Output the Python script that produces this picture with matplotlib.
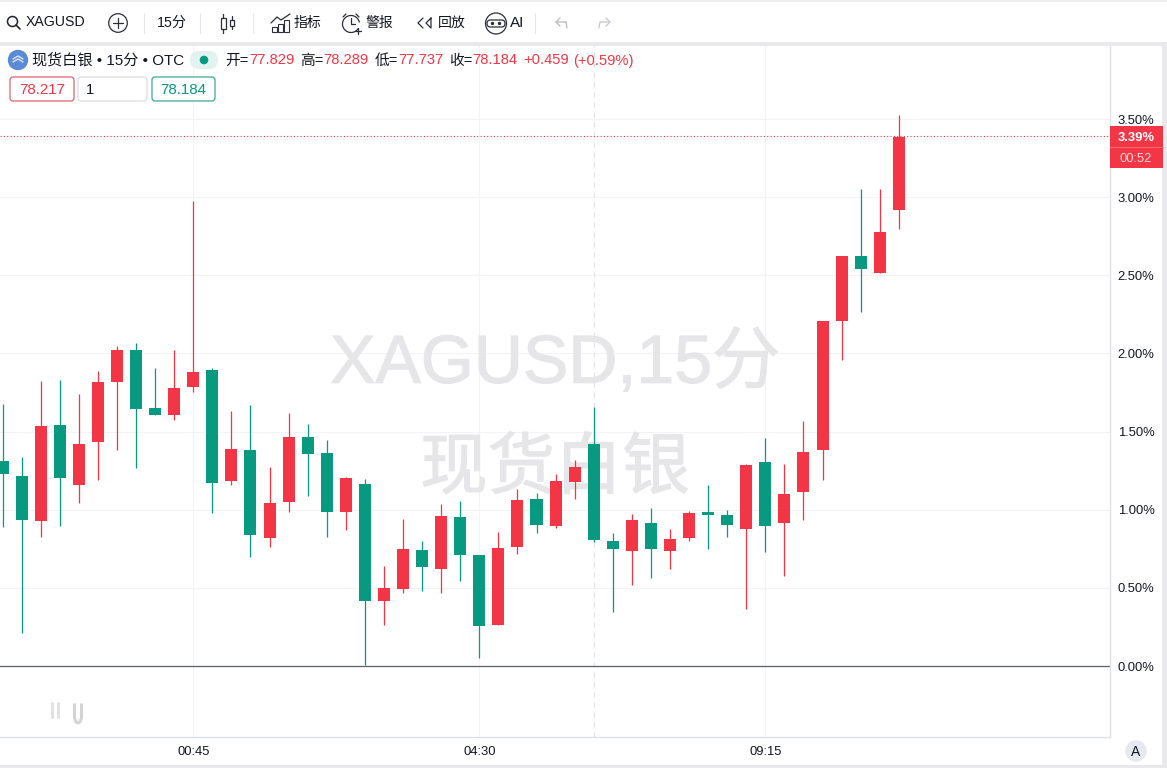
import numpy as np
import matplotlib
matplotlib.use('Agg')
import matplotlib.pyplot as plt
import matplotlib.patheffects as pe
from matplotlib.patches import Circle, FancyBboxPatch, Rectangle, Arc

plt.rcParams['font.family'] = ['Liberation Sans', 'Noto Sans CJK SC', 'DejaVu Sans']

# %% DATA (percent change)
opens = [1.312, 1.216, 0.928, 1.542, 1.158, 1.435, 1.817, 2.022, 1.651, 1.606,
         1.785, 1.894, 1.184, 1.382, 0.819, 1.049, 1.465, 1.363, 0.985, 1.164,
         0.416, 0.493, 0.742, 0.621, 0.953, 0.710, 0.262, 0.761, 1.068, 0.896,
         1.177, 1.420, 0.800, 0.736, 0.915, 0.736, 0.819, 0.985, 0.966, 0.877,
         1.305, 0.915, 1.113, 1.382, 2.207, 2.623, 2.514, 2.917]
highs = [1.676, 1.335, 1.823, 1.830, 1.740, 1.887, 2.047, 2.065, 1.905, 2.022,
         2.975, 1.905, 1.631, 1.670, 1.273, 1.619, 1.548, 1.446, 1.209, 1.196,
         0.640, 0.940, 0.800, 1.036, 1.056, 0.710, 0.857, 1.132, 1.107, 1.228,
         1.318, 1.659, 0.851, 0.972, 1.011, 0.877, 0.992, 1.158, 0.998, 1.292,
         1.459, 1.292, 1.568, 2.207, 2.623, 3.052, 3.052, 3.525]
lows = [0.891, 0.209, 0.827, 0.898, 1.045, 1.192, 1.384, 1.269, 1.606, 1.574,
        1.755, 0.979, 1.158, 0.699, 0.763, 0.985, 1.088, 0.825, 0.870, 0.006,
        0.262, 0.469, 0.482, 0.467, 0.544, 0.051, 0.262, 0.717, 0.851, 0.883,
        1.068, 0.793, 0.345, 0.518, 0.563, 0.621, 0.800, 0.749, 0.825, 0.365,
        0.729, 0.576, 0.934, 1.190, 1.958, 2.265, 2.514, 2.796]
closes = [1.230, 0.934, 1.536, 1.205, 1.420, 1.817, 2.022, 1.644, 1.606, 1.779,
          1.881, 1.171, 1.388, 0.838, 1.043, 1.465, 1.356, 0.985, 1.203, 0.416,
          0.499, 0.749, 0.633, 0.960, 0.710, 0.256, 0.755, 1.062, 0.902, 1.184,
          1.273, 0.806, 0.749, 0.934, 0.749, 0.813, 0.979, 0.966, 0.902, 1.286,
          0.896, 1.100, 1.369, 2.207, 2.623, 2.540, 2.777, 3.385]

y_ticks = [0, 0.5, 1.0, 1.5, 2.0, 2.5, 3.0, 3.5]
y_labels = ['0.00%', '0.50%', '1.00%', '1.50%', '2.00%', '2.50%', '3.00%', '3.50%']
x_ticks = [10, 25, 40]
x_labels = ['00:45', '04:30', '09:15']
last_pct = 3.39
crosshair_bar = 31

RED = '#f23645'
GREEN = '#089981'
INK = '#131722'
W, H = 1167, 768

fig = plt.figure(figsize=(W / 100, H / 100), dpi=100, facecolor='white')

# %% main chart
ax = fig.add_axes([0, (H - 737) / H, 1110 / W, (737 - 44) / H])
ax.set_xlim(-0.135, 58.075)
ax.set_ylim(-0.454, 3.98)

bars = np.arange(len(opens))
opens = np.array(opens)
closes = np.array(closes)
colors = [RED if c >= o else GREEN for o, c in zip(opens, closes)]

ax.vlines(bars, lows, highs, colors=colors, lw=0.9, zorder=3)
ax.bar(bars, np.abs(closes - opens), bottom=np.minimum(opens, closes), width=0.63,
       color=colors, zorder=4)

ax.set_yticks(y_ticks, y_labels)
ax.set_xticks(x_ticks, x_labels)
ax.yaxis.tick_right()
ax.tick_params(length=0, labelsize=9.4, labelcolor=INK)
ax.tick_params(axis='y', pad=5.5)
ax.tick_params(axis='x', pad=6.5)
ax.grid(True, color='#f3f3f5', lw=0.8, zorder=0)
ax.set_axisbelow(True)
for s in ['top', 'left']:
    ax.spines[s].set_visible(False)
for s in ['right', 'bottom']:
    ax.spines[s].set_color('#dfe1e6')
    ax.spines[s].set_linewidth(1.0)

ax.axhline(0, color='#5d5f66', lw=0.9, zorder=2)
ax.axhline(last_pct, color=RED, lw=0.8, ls=(0, (1, 2)), zorder=5)
ax.axvline(crosshair_bar, color='#e2e3e8', lw=0.9, ls=(0, (4, 4)), zorder=1)

thick = [pe.withStroke(linewidth=0.8, foreground='#e6e6e8')]
ax.text(0.5, 0.5375, 'XAGUSD,15分', transform=ax.transAxes, fontsize=49,
        color='#e6e6e8', ha='center', va='center', zorder=1, path_effects=thick)
ax.text(0.5, 0.384, '现货白银', transform=ax.transAxes, fontsize=48.5,
        color='#e6e6e8', ha='center', va='center', zorder=1, path_effects=thick)

# %% interface around the chart, in screen pixels
ui = fig.add_axes([0, 0, 1, 1], facecolor='none', zorder=10)
ui.set_xlim(0, W)
ui.set_ylim(H, 0)
ui.axis('off')

def rect(x0, y0, x1, y1, color, **kw):
    ui.add_patch(Rectangle((x0, y0), x1 - x0, y1 - y0, facecolor=color, edgecolor='none', **kw))

def label(x, y, s, color=INK, size=10, ha='left', **kw):
    ui.text(x, y, s, color=color, fontsize=size, ha=ha, va='center', **kw)

def stroke(xs, ys, color='#2a2e39', lw=0.9):
    ui.plot(xs, ys, color=color, lw=lw, solid_capstyle='round')

def box(x0, y0, x1, y1, edge):
    ui.add_patch(FancyBboxPatch((x0 + 2, y0 + 2), x1 - x0 - 4, y1 - y0 - 4,
                                boxstyle='round,pad=2,rounding_size=3',
                                facecolor='white', edgecolor=edge, lw=0.9))

# frame bands
rect(0, 0, W, 2, '#eeeef1')
rect(0, 42, W, 46, '#e9e9ec')
rect(1162, 46, W, H, '#e9e9ee')
rect(0, 765, W, H, '#e9e9ec')

# toolbar
ui.add_patch(Circle((12.5, 21.5), 5, fill=False, ec='#1e222d', lw=1.1))
stroke([16, 20], [25, 29], '#1e222d', 1.2)
label(26, 22.5, 'XAGUSD', size=10.2)
ui.add_patch(Circle((118, 23), 9.3, fill=False, ec='#2a2e39', lw=0.9))
stroke([113, 123], [23, 23])
stroke([118, 118], [18, 28])
for sx in [144, 200, 253, 535]:
    stroke([sx, sx], [13, 33], '#e8e8ec', 0.8)
label(157, 22.5, '15分', size=10.2)
# candle icon
ui.add_patch(Rectangle((221, 18), 4.5, 11, fill=False, ec='#2a2e39', lw=0.9))
stroke([223, 223], [14, 18])
stroke([223, 223], [29, 33])
ui.add_patch(Rectangle((230, 20), 4, 6, fill=False, ec='#2a2e39', lw=0.9))
stroke([232, 232], [16, 20])
stroke([232, 232], [26, 29])
# indicators icon
for bx, by in [(272, 27), (278, 24), (284, 20)]:
    ui.add_patch(Rectangle((bx, by), 5, 32 - by, fill=False, ec='#2a2e39', lw=0.8))
stroke([271, 277, 281, 290], [23, 17, 20, 14])
label(294, 22.5, '指标', size=10)
# alarm icon
ui.add_patch(Arc((351, 24), 17, 17, theta1=30, theta2=350, ec='#2a2e39', lw=0.9))
stroke([351, 351, 355], [18, 24, 24])
stroke([343, 346], [17, 14])
stroke([356, 359], [14, 17])
stroke([358, 358], [28, 34])
stroke([355, 361], [31, 31])
label(366, 22.5, '警报', size=10)
# replay icon
stroke([423, 418, 423], [18, 23, 28])
stroke([431, 426, 431, 431], [18, 23, 28, 18])
label(438, 22.5, '回放', size=10)
# AI icon
ui.add_patch(Circle((496, 23.5), 10.5, fill=False, ec='#2a2e39', lw=0.9))
ui.add_patch(FancyBboxPatch((487, 20), 18, 7, boxstyle='round,pad=0,rounding_size=3.5',
                            fill=False, ec='#2a2e39', lw=0.9))
ui.add_patch(Circle((492.5, 23.5), 1, color='#2a2e39'))
ui.add_patch(Circle((499.5, 23.5), 1, color='#2a2e39'))
label(510, 23, 'AI', size=11)
# undo and redo
stroke([566, 556, 560], [22, 22, 18], '#b8bac0')
stroke([556, 560], [22, 26], '#b8bac0')
stroke([566, 567], [22, 28], '#b8bac0')
stroke([600, 610, 606], [22, 22, 18], '#c4c6cc')
stroke([610, 606], [22, 26], '#c4c6cc')
stroke([600, 599], [22, 28], '#c4c6cc')

# legend row
ui.add_patch(Circle((18, 60), 9.5, color='#5b8ad6'))
stroke([13, 18, 23], [59, 56, 59], '#dfe8f8', 1.0)
stroke([13, 18, 23], [62, 59, 62], '#dfe8f8', 1.0)
label(32, 60.5, '现货白银 • 15分 • OTC', size=10.9)
ui.add_patch(FancyBboxPatch((199, 60), 10, 0.01, boxstyle='round,pad=9,rounding_size=9',
                            facecolor='#e2f2ef', edgecolor='none'))
ui.add_patch(Circle((204, 60), 3.6, color=GREEN))

pairs_x = [(225.5, '开=', 249, '77.829'), (300.5, '高=', 323, '78.289'),
           (375, '低=', 398, '77.737'), (449, '收=', 472, '78.184')]
for lx, ls, vx, vs in pairs_x:
    label(lx, 60.5, ls, size=10.6)
    label(vx, 60.5, vs, color=RED, size=10.6)
label(523, 60.5, '+0.459', color=RED, size=10.6)
label(573, 60.5, '(+0.59%)', color=RED, size=10.6)

box(10, 77, 74, 101, '#e0626f')
label(42, 89.5, '78.217', color=RED, size=10.9, ha='center')
box(78, 77, 147, 101, '#dcdde2')
label(86, 89.5, '1', size=10.6)
box(152, 77, 215, 101, '#3aa994')
label(183.5, 89.5, '78.184', color=GREEN, size=10.9, ha='center')

# last price tag
rect(1110, 126, 1163, 168, RED)
stroke([1110, 1163], [147, 147], '#f8707c', 0.6)
label(1136, 138, '3.39%', color='white', size=9.4, ha='center', fontweight='bold')
label(1136, 158.5, '00:52', color='#fbd5d9', size=9.4, ha='center')

# faint marks lower left
stroke([52, 52], [703, 717], '#e2e2e4', 2.2)
stroke([57.5, 57.5], [703, 717], '#e2e2e4', 2.2)
ui.plot([74.5, 74.5, 76, 78, 80, 81.5, 81.5], [705, 718, 722, 723, 722, 718, 705],
        color='#d4d4d6', lw=2.2)

# auto scale button
ui.add_patch(Circle((1136, 751), 10, color='#e7e8f0'))
label(1136, 751.5, 'A', size=10, ha='center')

fig.savefig('out.png', dpi=100)
